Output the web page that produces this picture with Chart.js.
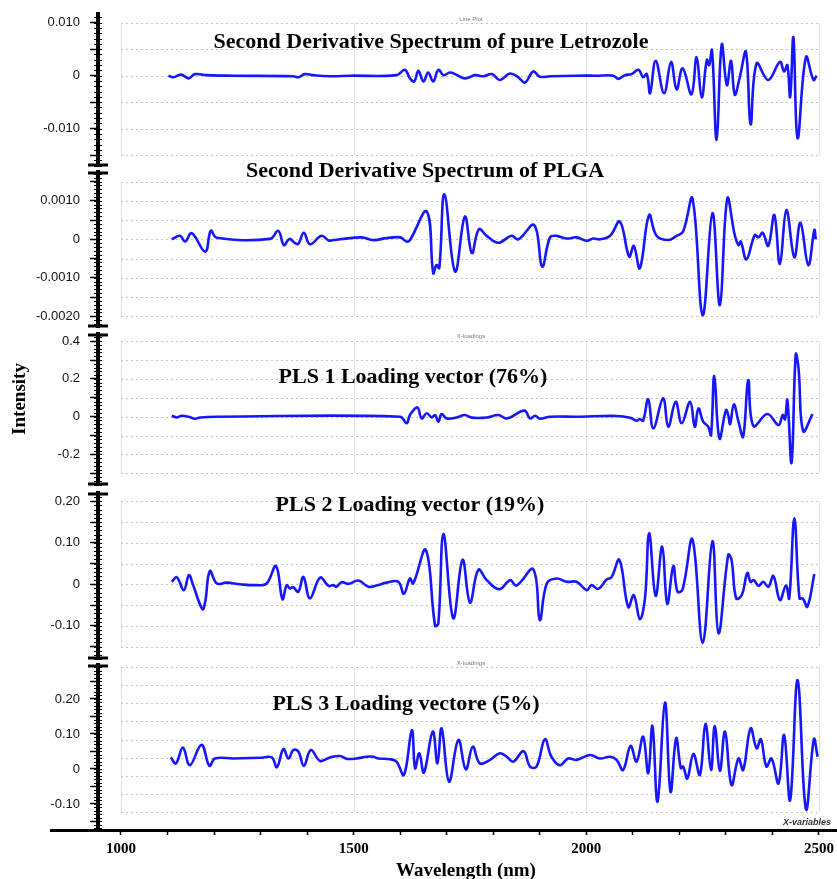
<!DOCTYPE html>
<html>
<head>
<meta charset="utf-8">
<script src="https://cdn.jsdelivr.net/npm/chart.js@4.4.1/dist/chart.umd.min.js"></script>
<style>
  html, body { margin: 0; padding: 0; background: #fff; }
  #wrap { position: relative; width: 837px; height: 879px; overflow: hidden; }
  #wrap canvas { position: absolute; left: 0; top: 0; }
</style>
</head>
<body>
<div id="wrap"></div>
<script>
// wavelength axis (nm)
const xTickValues = [1000, 1100, 1200, 1300, 1400, 1500, 1600, 1700, 1800, 1900, 2000, 2100, 2200, 2300, 2400, 2500];
const xTickLabels = ['1000', '', '', '', '', '1500', '', '', '', '', '2000', '', '', '', '', '2500'];
const frameNm = [1000, 1500, 2000, 2500];

// Second derivative spectrum of pure Letrozole
const letrozoleNm = [1102, 1112, 1130, 1145, 1159, 1184, 1241, 1370, 1381, 1395, 1413, 1449, 1492, 1592, 1610,
  1621, 1630, 1639, 1650, 1660, 1671, 1682, 1693, 1707, 1718, 1739, 1761, 1779, 1797, 1814, 1836, 1854, 1868, 1886, 1900,
  1922, 1979, 2022, 2058, 2069, 2083, 2097, 2112, 2122, 2130, 2137, 2149, 2167, 2182, 2194, 2207, 2226, 2237, 2248, 2259,
  2264, 2270, 2280, 2291, 2302, 2311, 2319, 2330, 2343, 2353, 2366, 2391, 2416, 2425, 2432, 2438, 2445, 2454, 2472, 2488, 2495];
const letrozoleVal = [0, -0.0003, 0.0002, -0.0005, 0.0003, 0.0001, 0, -0.0001, -0.0003, 0.0003, 0.0001, -0.0001, 0, 0.0001, 0.0011,
  -0.0005, -0.0011, 0.0009, -0.0011, 0.0006, -0.0011, 0.0011, 0.0001, 0.0006, 0.0003, -0.0005, 0.0001, -0.0001, 0.0003, -0.0008, 0.0004, -0.0003, -0.0013, 0.0008, -0.0002,
  -0.0001, 0, 0, 0, -0.0006, 0.0001, 0.0003, 0.0011, -0.0003, 0.0003, -0.0033, 0.0028, -0.0033, 0.0026, -0.0026, 0.0014, -0.0035, 0.0035, -0.0041, 0.0030,
  0.0020, 0.0048, -0.0121, 0.0059, -0.0018, 0.0028, -0.0036, -0.0002, 0.0045, -0.0092, 0.0023, -0.0008, 0.0026, 0.0008, 0.0020, -0.0040, 0.0072, -0.0118, 0.0035, -0.0008, 0];

// Second derivative spectrum of PLGA
const plgaNm = [1109, 1127, 1138, 1152, 1181, 1193, 1206, 1320, 1338, 1350, 1362, 1374, 1381, 1393, 1406, 1431, 1446, 1456, 1471, 1517, 1542, 1571, 1600, 1614,
  1621, 1657, 1671, 1678, 1684, 1695, 1718, 1739, 1754, 1769, 1786, 1811, 1839, 1854, 1888, 1905, 1922, 1936, 1958, 1979,
  2001, 2015, 2029, 2051, 2072, 2092, 2102, 2115, 2135, 2151, 2176, 2194, 2208, 2228, 2250, 2271, 2287, 2303, 2319, 2327,
  2332, 2344, 2362, 2370, 2379, 2391, 2404, 2416, 2430, 2447, 2460, 2477, 2490, 2493];
const plgaVal = [0, 0.00009, -0.00006, 0.00016, -0.00032, 0.00022, 0.00004, 0.00001, 0.00022, -0.00015, 0.00001, -0.0001, -0.00012, 0.00017, -0.00013, 0.00009, -0.00003, -0.00002, 0, 0.00005, -0.00002, 0.00003, 0.00005, -0.00006,
  -0.00002, 0.00072, -0.00088, -0.00067, -0.00075, 0.00117, -0.00084, 0.00059, -0.00036, 0.00026, 0.00009, -0.00009, 0.00009, 0, 0.00037, -0.00071, 0.00005, 0.00009, 0.00002, 0.00005,
  -0.00004, 0.00002, 0, 0.00009, 0.00046, -0.00045, -0.00017, -0.00075, 0.00063, 0.00009, -0.00002, 0.00009, 0.0002, 0.00106, -0.00197, 0.00068, -0.00171, 0.00106, 0.00011, -0.00015,
  -0.00006, -0.00052, 0.00011, 0.00005, 0.00017, -0.00017, 0.00063, -0.00064, 0.00076, -0.00047, 0.00043, -0.00067, 0.00024, 0];

// PLS 1 loading vector
const pls1Nm = [1109, 1120, 1130, 1145, 1159, 1170, 1206, 1600, 1614,
  1621, 1637, 1646, 1657, 1668, 1675, 1682, 1689, 1700, 1721, 1739, 1754, 1786, 1811, 1829, 1867, 1879, 1890, 1900, 1922,
  1979, 2065, 2094, 2108, 2115, 2122, 2133, 2144, 2165, 2176, 2192, 2205, 2223, 2233, 2241, 2251, 2262, 2268, 2275, 2286,
  2300, 2305, 2309, 2317, 2327, 2337, 2348, 2359, 2389, 2413, 2422, 2427, 2432, 2441, 2450, 2456, 2466, 2486];
const pls1Val = [0.005, -0.004, 0.005, 0, -0.011, -0.004, 0, 0, -0.035,
  0.009, 0.049, -0.009, 0.018, -0.004, 0.009, -0.026, 0.014, -0.009, -0.004, 0.009, -0.005, -0.004, 0.009, -0.009, 0.032, -0.009, 0.005, -0.011, 0,
  0, 0.004, -0.005, -0.021, -0.012, -0.021, 0.092, -0.062, 0.097, -0.053, 0.079, -0.035, 0.079, -0.053, 0.044, -0.026, -0.053, -0.097, 0.215, -0.115,
  0.035, 0.009, -0.039, 0.065, -0.026, -0.106, 0.194, -0.049, 0.014, -0.044, 0.009, -0.014, 0.088, -0.243, 0.330, 0.256, -0.076, 0.014];

// PLS 2 loading vector
const pls2Nm = [1109, 1120, 1135, 1146, 1155, 1175, 1181, 1191, 1206, 1227, 1256, 1292, 1313, 1333, 1347, 1356, 1363, 1370, 1381, 1392, 1406, 1428, 1446, 1456, 1463, 1474, 1489, 1510, 1532, 1549, 1571, 1596, 1608,
  1621, 1628, 1655, 1675, 1682, 1693, 1714, 1734, 1750, 1768, 1786, 1813, 1836, 1850, 1886, 1900, 1915, 1936, 1958, 1979,
  2001, 2011, 2026, 2044, 2054, 2071, 2090, 2102, 2115, 2126, 2135, 2149, 2163, 2174, 2187, 2196, 2207, 2228, 2250, 2271,
  2284, 2305, 2312, 2322, 2334, 2346, 2353, 2360, 2370, 2380, 2391, 2402, 2416, 2429, 2436, 2447, 2458, 2465, 2475, 2490];
const pls2Val = [0.006, 0.017, -0.014, 0.022, -0.002, -0.060, -0.042, 0.032, 0.002, 0.004, 0, -0.002, 0.002, 0.044, -0.036, -0.002, -0.010, -0.007, -0.018, 0.018, -0.034, 0.016, -0.004, -0.002, -0.006, 0.005, 0.001, 0.009, -0.006, -0.003, 0.004, 0.006, -0.023,
  0.014, 0.002, 0.083, -0.100, -0.094, 0.121, -0.082, 0.059, -0.044, 0.035, 0.010, -0.012, 0.010, -0.003, 0.036, -0.086, 0.002, 0.014, 0.006, 0.006,
  -0.014, -0.002, -0.011, 0.012, 0.017, 0.059, -0.055, -0.026, -0.084, -0.034, 0.123, -0.028, 0.091, -0.047, 0.044, -0.018, -0.012, 0.108, -0.141, 0.104,
  -0.118, 0.071, 0.059, -0.034, -0.026, 0.027, 0.006, 0.010, -0.004, 0.006, -0.006, 0.020, -0.038, -0.003, -0.034, 0.159, -0.034, -0.034, -0.054, 0.025];

// PLS 3 loading vector
const pls3Nm = [1107, 1118, 1133, 1148, 1173, 1190, 1202, 1241, 1299, 1324, 1335, 1349, 1360, 1370, 1381, 1393, 1408, 1428, 1449, 1471, 1485, 1506, 1528, 1542, 1553, 1578, 1592, 1608,
  1625, 1632, 1641, 1651, 1670, 1680, 1689, 1705, 1725, 1741, 1756, 1771, 1793, 1814, 1829, 1843, 1865, 1879, 1893, 1911,
  1925, 1943, 1961, 1979, 2008, 2029, 2051, 2065, 2079, 2095, 2108, 2122, 2133, 2142, 2153, 2169, 2181, 2193, 2203, 2208,
  2217, 2230, 2244, 2256, 2268, 2276, 2287, 2298, 2312, 2327, 2337, 2353, 2366, 2375, 2387, 2398, 2413, 2425, 2438, 2454, 2472, 2489, 2497];
const pls3Val = [0.033, 0.016, 0.061, 0.011, 0.069, 0.009, 0.030, 0.030, 0.032, 0.033, 0.005, 0.057, 0.030, 0.054, 0.050, 0.009, 0.054, 0.023, 0.033, 0.037, 0.029, 0.030, 0.035, 0.035, 0.030, 0.028, 0.021, -0.017,
  0.111, 0.002, 0.045, -0.010, 0.107, 0.016, 0.116, -0.036, 0.083, -0.001, 0.064, 0.016, 0.026, 0.045, 0.035, 0.021, 0.051, 0.007, 0.007, 0.085,
  0.035, 0.011, 0.030, 0.026, 0.040, 0.030, 0.035, 0.026, -0.003, 0.066, 0.021, 0.092, -0.012, 0.123, -0.093, 0.190, -0.065, 0.088, 0.002, 0.007,
  -0.027, 0.043, -0.017, 0.129, -0.003, 0.123, -0.005, 0.107, -0.046, 0.030, -0.003, 0.116, 0.059, 0.085, 0.007, 0.030, -0.041, 0.097, -0.089, 0.254, -0.115, 0.085, 0.035];

// intensity ticks per panel
const p1Ticks = [0.010, 0.005, 0, -0.005, -0.010, -0.015];
const p1Labels = ['0.010', '', '0', '', '-0.010', ''];
const p2Ticks = [0.0015, 0.0010, 0.0005, 0, -0.0005, -0.0010, -0.0015, -0.0020];
const p2Labels = ['', '0.0010', '', '0', '', '-0.0010', '', '-0.0020'];
const p3Ticks = [0.4, 0.3, 0.2, 0.1, 0, -0.1, -0.2, -0.3];
const p3Labels = ['0.4', '', '0.2', '', '0', '', '-0.2', ''];
const p4Ticks = [0.20, 0.15, 0.10, 0.05, 0, -0.05, -0.10, -0.15];
const p4Labels = ['0.20', '', '0.10', '', '0', '', '-0.10', ''];
const p5Ticks = [0.25, 0.20, 0.15, 0.10, 0.05, 0, -0.05, -0.10, -0.15];
const p5Labels = ['', '0.20', '', '0.10', '', '0', '', '-0.10', ''];

const W = 837, H = 879;
const X_MIN = 950.6, X_MAX = 2538.7;
const BLUE = 'rgb(22, 22, 255)';

const panels = [
  { nm: letrozoleNm, val: letrozoleVal, min: -0.01704, max: 0.01164, ticks: p1Ticks, labels: p1Labels,
    frame: [0.010, -0.015, 5], tiny: 0.001, top: 14, bottom: 166,
    title: 'Second Derivative Spectrum of pure Letrozole', tx: 431, ty: 48, tag: 'Line Plot', tagY: 19 },
  { nm: plgaNm, val: plgaVal, min: -0.002278, max: 0.001748, ticks: p2Ticks, labels: p2Labels,
    frame: [0.0015, -0.0020, 7], tiny: 0.0001, top: 172, bottom: 327,
    title: 'Second Derivative Spectrum of PLGA', tx: 425, ty: 177 },
  { nm: pls1Nm, val: pls1Val, min: -0.3614, max: 0.4376, ticks: p3Ticks, labels: p3Labels,
    frame: [0.4, -0.3, 7], tiny: 0.02, top: 334, bottom: 485,
    title: 'PLS 1 Loading vector (76%)', tx: 413, ty: 383, tag: 'X-loadings', tagY: 336 },
  { nm: pls2Nm, val: pls2Val, min: -0.18, max: 0.22, ticks: p4Ticks, labels: p4Labels,
    frame: [0.20, -0.15, 7], tiny: 0.01, top: 493, bottom: 659,
    title: 'PLS 2 Loading vector (19%)', tx: 410, ty: 511 },
  { nm: pls3Nm, val: pls3Val, min: -0.1743, max: 0.2971, ticks: p5Ticks, labels: p5Labels,
    frame: [0.291, -0.123, 8], tiny: 0.01, top: 665, bottom: 830,
    title: 'PLS 3 Loading vectore (5%)', tx: 406, ty: 710, tag: 'X-loadings', tagY: 663 }
];

function line(ctx, x1, y1, x2, y2) {
  ctx.beginPath(); ctx.moveTo(x1, y1); ctx.lineTo(x2, y2); ctx.stroke();
}

// grey frame, axis ruler, break marks and panel titles
const panelDecor = {
  id: 'panelDecor',
  beforeDatasetsDraw(chart, args, o) {
    const ctx = chart.ctx, x = chart.scales.x, y = chart.scales.y;
    const yt = y.getPixelForValue(o.frame[0]), yb = y.getPixelForValue(o.frame[1]);
    const xl = x.getPixelForValue(frameNm[0]), xr = x.getPixelForValue(frameNm[frameNm.length - 1]);
    ctx.save();
    ctx.lineWidth = 1;
    ctx.strokeStyle = '#e0e0e0';
    frameNm.forEach(v => {
      const px = Math.round(x.getPixelForValue(v)) + 0.5;
      line(ctx, px, yt, px, yb);
    });
    ctx.strokeStyle = '#c4c4c4';
    ctx.setLineDash([2, 3]);
    for (let i = 0; i <= o.frame[2]; i++) {
      const py = Math.round(yt + (yb - yt) * i / o.frame[2]) + 0.5;
      line(ctx, xl, py, xr, py);
    }
    ctx.restore();
  },
  afterDraw(chart, args, o) {
    const ctx = chart.ctx, a = chart.chartArea, y = chart.scales.y;
    ctx.save();
    ctx.strokeStyle = '#000';
    ctx.lineWidth = 1;
    const k0 = Math.ceil(y.min / o.tiny), k1 = Math.floor(y.max / o.tiny);
    for (let k = k0; k <= k1; k++) {
      const py = Math.round(y.getPixelForValue(k * o.tiny)) + 0.5;
      line(ctx, a.left - 4, py, a.left + 4, py);
    }
    ctx.lineWidth = 3;
    if (o.breakTop) line(ctx, a.left - 10, a.top + 1, a.left + 10, a.top + 1);
    if (o.breakBottom) line(ctx, a.left - 10, a.bottom - 1, a.left + 10, a.bottom - 1);

    ctx.fillStyle = '#000';
    ctx.textAlign = 'center';
    ctx.textBaseline = 'alphabetic';
    ctx.font = 'bold 22px "Liberation Serif", "Times New Roman", serif';
    ctx.fillText(o.title, o.tx, o.ty);
    if (o.tag) {
      ctx.fillStyle = '#777';
      ctx.font = '6px "Liberation Sans", Arial, sans-serif';
      ctx.textBaseline = 'middle';
      ctx.fillText(o.tag, 471, o.tagY);
    }
    ctx.restore();
  }
};

// shared axis titles, drawn once with the bottom panel
const figureText = {
  id: 'figureText',
  afterDraw(chart) {
    const ctx = chart.ctx, a = chart.chartArea;
    ctx.save();
    ctx.strokeStyle = '#000';
    ctx.lineWidth = 3;
    line(ctx, 50, 830.5, a.left, 830.5);
    ctx.fillStyle = '#000';
    ctx.textAlign = 'center';
    ctx.textBaseline = 'alphabetic';
    ctx.font = 'bold 19px "Liberation Serif", "Times New Roman", serif';
    ctx.fillText('Wavelength (nm)', 466, 876);
    ctx.translate(25, 399);
    ctx.rotate(-Math.PI / 2);
    ctx.fillText('Intensity', 0, 0);
    ctx.setTransform(1, 0, 0, 1, 0, 0);
    ctx.textAlign = 'left';
    ctx.fillStyle = '#333';
    ctx.font = 'italic bold 9px "Liberation Sans", Arial, sans-serif';
    ctx.fillText('X-variables', 783, 825);
    ctx.restore();
  }
};

const wrap = document.getElementById('wrap');
panels.forEach((p, k) => {
  const last = k === panels.length - 1;
  const canvas = document.createElement('canvas');
  canvas.width = W;
  canvas.height = H;
  wrap.appendChild(canvas);

  new Chart(canvas, {
    type: 'line',
    data: {
      datasets: [{
        data: p.nm.map((v, i) => ({ x: v, y: p.val[i] })),
        borderColor: BLUE,
        borderWidth: 2.6,
        pointRadius: 0,
        tension: 0.4,
        fill: false
      }]
    },
    options: {
      responsive: false,
      animation: false,
      events: [],
      layout: { padding: { left: 0, right: 0, top: p.top, bottom: last ? 0 : H - p.bottom } },
      plugins: {
        legend: { display: false },
        tooltip: { enabled: false },
        panelDecor: {
          frame: p.frame, tiny: p.tiny, title: p.title, tx: p.tx, ty: p.ty,
          tag: p.tag, tagY: p.tagY, breakTop: k > 0, breakBottom: !last
        }
      },
      scales: {
        x: {
          type: 'linear',
          min: X_MIN,
          max: X_MAX,
          display: last,
          afterBuildTicks: s => { s.ticks = xTickValues.map(v => ({ value: v })); },
          afterFit: s => {
            s.height = last ? H - p.bottom : 0;
            s.paddingLeft = 0;
            s.paddingRight = 0;
          },
          ticks: {
            autoSkip: false,
            maxRotation: 0,
            padding: 5,
            color: '#000',
            font: { family: '"Liberation Serif", "Times New Roman", serif', size: 15, weight: 'bold' },
            callback: (v, i) => xTickLabels[i]
          },
          grid: { drawOnChartArea: false, drawTicks: true, tickLength: 5, tickColor: '#000', tickWidth: 1.5 },
          border: { display: true, color: '#000', width: 3 }
        },
        y: {
          type: 'linear',
          min: p.min,
          max: p.max,
          afterBuildTicks: s => { s.ticks = p.ticks.map(v => ({ value: v })); },
          afterFit: s => { s.width = 98; s.paddingTop = 0; s.paddingBottom = 0; },
          ticks: {
            autoSkip: false,
            padding: 10,
            color: '#111',
            font: { family: '"Liberation Sans", Arial, sans-serif', size: 13 },
            callback: (v, i) => p.labels[i]
          },
          grid: { drawOnChartArea: false, drawTicks: true, tickLength: 8, tickColor: '#000', tickWidth: 1.5 },
          border: { display: true, color: '#000', width: 4 }
        }
      }
    },
    plugins: last ? [panelDecor, figureText] : [panelDecor]
  });
});
</script>
</body>
</html>
